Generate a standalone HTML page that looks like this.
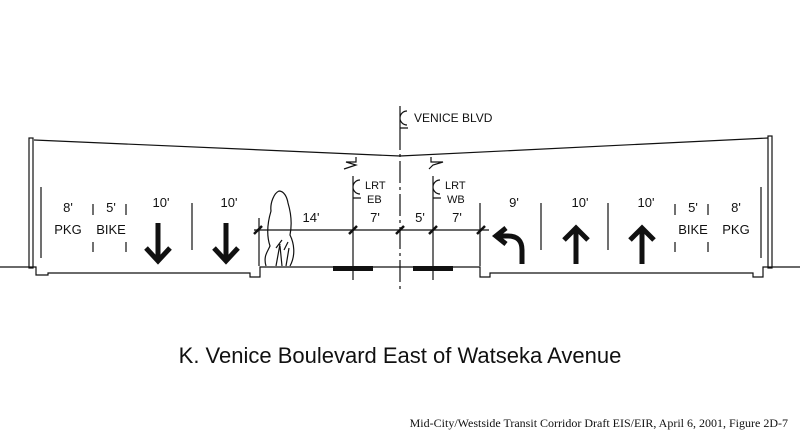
<!DOCTYPE html>
<html><head><style>
body{margin:0;background:#fff}
svg{display:block}
text{font-family:"Liberation Sans",sans-serif;fill:#111}
</style></head><body>
<svg width="800" height="440" viewBox="0 0 800 440" xmlns="http://www.w3.org/2000/svg">
<g stroke="#111" fill="none" stroke-width="1.2">
<rect x="29" y="138" width="4" height="130"/>
<rect x="768" y="136" width="4" height="132"/>
<line x1="34" y1="140" x2="400" y2="156"/>
<line x1="400" y1="156" x2="768" y2="138"/>
<polyline points="0,267 36,267 36,275 48,275 48,273 250,273 250,277 260,277 260,267 333,267"/>
<polyline points="453,267 480,267 480,277 490,277 490,273 753,273 753,277 763,277 763,267 800,267"/>
<line x1="373" y1="267" x2="413" y2="267"/>
<line x1="400" y1="128" x2="400" y2="292" stroke-dasharray="22,4,3,4"/>
<line x1="41" y1="187" x2="41" y2="258"/>
<line x1="93" y1="204" x2="93" y2="215"/><line x1="93" y1="242" x2="93" y2="252"/>
<line x1="126" y1="204" x2="126" y2="215"/><line x1="126" y1="242" x2="126" y2="252"/>
<line x1="192" y1="203" x2="192" y2="250"/>
<line x1="259" y1="218" x2="259" y2="266"/>
<line x1="480" y1="203" x2="480" y2="266"/>
<line x1="541" y1="203" x2="541" y2="250"/>
<line x1="608" y1="203" x2="608" y2="250"/>
<line x1="675" y1="204" x2="675" y2="215"/><line x1="675" y1="242" x2="675" y2="252"/>
<line x1="708" y1="204" x2="708" y2="215"/><line x1="708" y1="242" x2="708" y2="252"/>
<line x1="761" y1="187" x2="761" y2="258"/>
<line x1="254" y1="230" x2="489" y2="230"/>
<line x1="353" y1="198" x2="353" y2="280"/>
<line x1="433" y1="198" x2="433" y2="280"/>
<path d="M356,157 v5 h-10 l10,3 l-12,4 M431,157 v5 h12 l-10,3 l-4,4"/>
<path d="M266,266 c-3,-10 2,-15 4,-20 c-4,-12 -2,-25 1,-35 c-1,-8 3,-18 8,-20 c5,0 8,6 9,12 c3,10 4,22 2,32 c4,8 6,20 0,31 M276,266 l4,-22 M282,266 l-2,-20 M286,266 l3,-18 M276,248 l6,-8 M284,250 l4,-8"/>
</g>
<g stroke="#111" stroke-width="2.5">
<line x1="254" y1="234" x2="262" y2="226"/><line x1="349" y1="234" x2="357" y2="226"/>
<line x1="396" y1="234" x2="404" y2="226"/><line x1="429" y1="234" x2="437" y2="226"/>
<line x1="477" y1="234" x2="485" y2="226"/>
</g>
<rect x="333" y="266" width="40" height="5" fill="#111"/>
<rect x="413" y="266" width="40" height="5" fill="#111"/>
<g stroke="#111" stroke-width="5" fill="none" stroke-linecap="butt">
<path d="M158,223 V261 M146,248 L158,261 L170,248"/>
<path d="M226,223 V261 M214,248 L226,261 L238,248"/>
<path d="M576,264 V228 M564,240 L576,228 L588,240"/>
<path d="M642,264 V228 M630,240 L642,228 L654,240"/>
<path d="M522,264 V250 Q522,236 508,236 H496 M506,228 L496,236 L506,244"/>
</g>
<g stroke="#111" fill="none" stroke-width="1.2">
<path d="M407,111 a7,7 0 1 0 0,14 M400,106 V128 M400,128 h8"/>
<path d="M360,180 a7,7 0 1 0 0,14 M353,176 V198 M353,198 h8"/>
<path d="M440,180 a7,7 0 1 0 0,14 M433,176 V198 M433,198 h8"/>
</g>
<g font-size="12">
<text x="414" y="122">VENICE BLVD</text>
<text x="365" y="189" font-size="11">LRT</text><text x="367" y="203" font-size="11">EB</text>
<text x="445" y="189" font-size="11">LRT</text><text x="447" y="203" font-size="11">WB</text>
</g>
<g font-size="13" text-anchor="middle">
<text x="68" y="212">8'</text><text x="68" y="234">PKG</text>
<text x="111" y="212">5'</text><text x="111" y="234">BIKE</text>
<text x="161" y="207">10'</text><text x="229" y="207">10'</text>
<text x="311" y="222">14'</text><text x="375" y="222">7'</text>
<text x="420" y="222">5'</text><text x="457" y="222">7'</text>
<text x="514" y="207">9'</text><text x="580" y="207">10'</text><text x="646" y="207">10'</text>
<text x="693" y="212">5'</text><text x="693" y="234">BIKE</text>
<text x="736" y="212">8'</text><text x="736" y="234">PKG</text>
</g>
<text x="400" y="363" font-size="22" text-anchor="middle">K.  Venice Boulevard East of Watseka Avenue</text>
<text x="788" y="427" font-size="12" text-anchor="end" style="font-family:'Liberation Serif',serif">Mid-City/Westside Transit Corridor Draft EIS/EIR, April 6, 2001, Figure 2D-7</text>
</svg>
</body></html>
